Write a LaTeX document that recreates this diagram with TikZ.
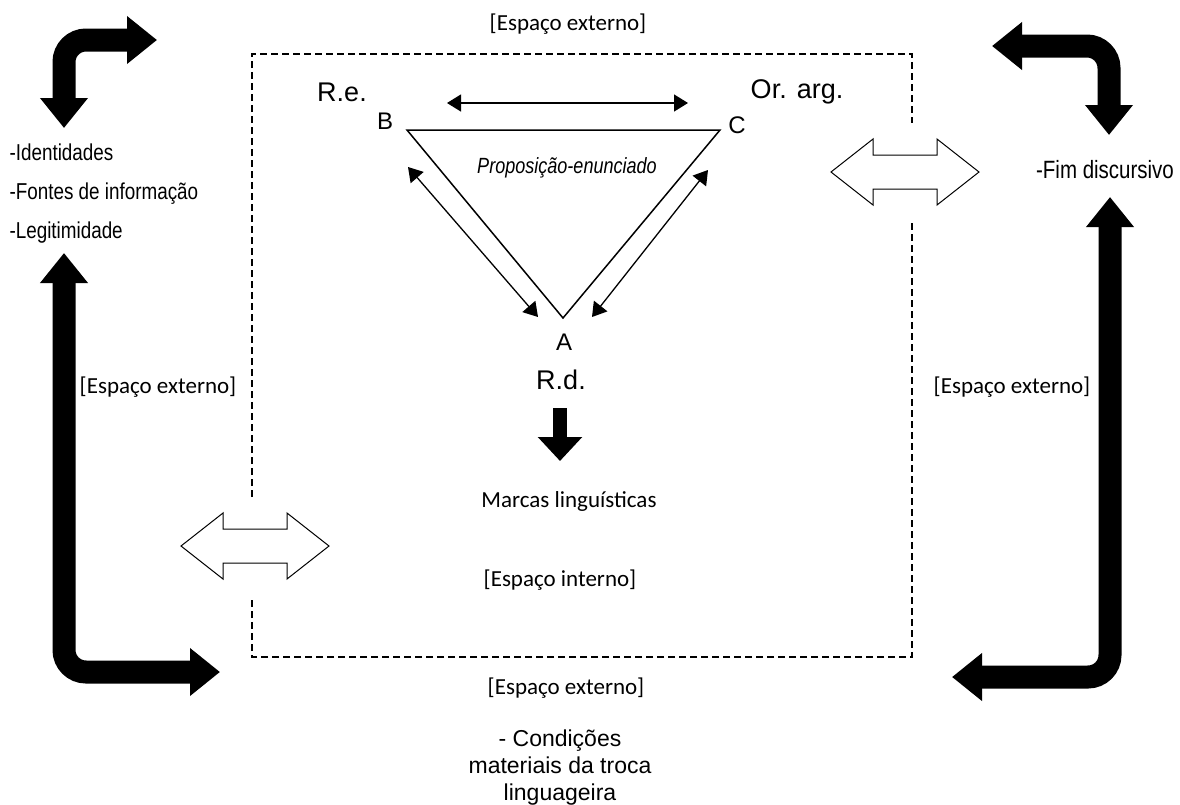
\documentclass[tikz,border=0pt]{standalone}
\usepackage{fontspec}
\setmainfont{Carlito}
\newfontfamily\arialfont{Liberation Sans}
\newfontfamily\narrowfont[FakeStretch=0.82]{Liberation Sans}
\usetikzlibrary{arrows.meta}

\tikzset{
	bigarrow/.style={line width=23pt, rounded corners=22pt,
		{Triangle[length=30pt,width=46pt]}-{Triangle[length=30pt,width=46pt]}},
	thinarrow/.style={line width=1.3pt,
		{Triangle[length=14pt,width=17pt]}-{Triangle[length=14pt,width=17pt]}},
	spacelabel/.style={font=\fontsize{23}{27}\selectfont},
	vertexlabel/.style={font=\arialfont\fontsize{24}{28}\selectfont},
	rolelabel/.style={font=\arialfont\fontsize{27}{32}\selectfont},
	listlabel/.style={font=\narrowfont\fontsize{23}{39}\selectfont, align=left},
	hollowarrow/.pic={
		\draw[line width=1pt, fill=white]
			(-74,0) -- (-32,-33) -- (-32,-17) -- (32,-17) -- (32,-33) --
			(74,0) -- (32,33) -- (32,17) -- (-32,17) -- (-32,33) -- cycle;
	}
}

\begin{document}
\begin{tikzpicture}[x=1pt, y=-1pt]
	\useasboundingbox (0,0) rectangle (1180,804);

% The inner space
\draw[line width=1.5pt, dash pattern=on 7pt off 4pt]
	(252,497) -- (252,54) -- (912,54) -- (912,123);
\draw[line width=1.5pt, dash pattern=on 7pt off 4pt]
	(912,223) -- (912,657) -- (252,657) -- (252,597);

% Triangle
\coordinate (vB) at (407,130);
\coordinate (vC) at (720,130);
\coordinate (vA) at (563,318);
\draw[line width=1.5pt] (vB) -- (vC) -- (vA) -- cycle;

\node[vertexlabel] (B) at (385,121) {B};
\node[vertexlabel] (C) at (737,125) {C};
\node[vertexlabel] (A) at (564,342) {A};
\node[rolelabel] (re) at (342,92) {R.e.};
\node[rolelabel] (orarg) at (797,92) {Or. arg.};
\node[rolelabel] (rd) at (561,380) {R.d.};
\node[font=\narrowfont\itshape\fontsize{22}{26}\selectfont] (prop) at (567,168) {Proposição-enunciado};

\coordinate (bcL) at (447,103);
\coordinate (bcR) at (688,103);
\coordinate (baB) at (408,167);
\coordinate (baA) at (538,317);
\coordinate (caC) at (708,170);
\coordinate (caA) at (592,317);
\draw[thinarrow] (bcL) -- (bcR);
\draw[thinarrow] (baB) -- (baA);
\draw[thinarrow] (caC) -- (caA);

% Inner texts
\node[spacelabel] (marcas) at (569,501) {Marcas linguísticas};
\node[spacelabel] (interno) at (560,580) {[Espaço interno]};
\coordinate (rdTop) at (560,408);
\coordinate (rdTip) at (560,461);
\draw[line width=14pt, -{Triangle[length=24pt,width=43pt]}] (rdTop) -- (rdTip);

% Outer texts
\node[spacelabel] (exttop) at (568,24) {[Espaço externo]};
\node[spacelabel] (extleft) at (158,387) {[Espaço externo]};
\node[spacelabel] (extright) at (1012,387) {[Espaço externo]};
\node[spacelabel] (extbottom) at (566,688) {[Espaço externo]};
\node[listlabel, anchor=west] (inputs) at (6,194)
	{-Identidades\\-Fontes de informação\\-Legitimidade};
\node[font=\narrowfont\fontsize{25}{29}\selectfont] (fim) at (1105,170) {-Fim discursivo};
\node[font=\arialfont\fontsize{23}{27}\selectfont, align=center] (cond) at (560,768)
	{- Condições\\materiais da troca\\linguageira};

% Exchanges between the spaces
\pic at (255,546) {hollowarrow};
\pic at (905,172) {hollowarrow};

\coordinate (tlDown) at (64,128);
\coordinate (tlRight) at (157,40);
\coordinate (trDown) at (1109,135);
\coordinate (trLeft) at (992,46);
\coordinate (lUp) at (64,253);
\coordinate (lRight) at (220,672);
\coordinate (rUp) at (1110,197);
\coordinate (rLeft) at (952,677);
\draw[bigarrow] (tlDown) |- (tlRight);
\draw[bigarrow] (trDown) |- (trLeft);
\draw[bigarrow] (lUp) |- (lRight);
\draw[bigarrow] (rUp) |- (rLeft);
\end{tikzpicture}
\end{document}
